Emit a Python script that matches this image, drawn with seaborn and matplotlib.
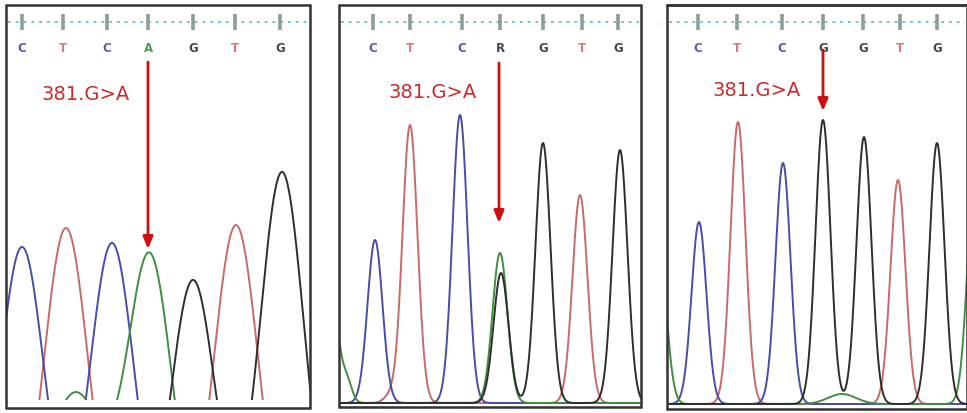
import numpy as np
import pandas as pd
import matplotlib
matplotlib.use("Agg")
import matplotlib.pyplot as plt
import seaborn as sns
from matplotlib.patches import Rectangle

sns.set_theme(style="white")
plt.rcParams["font.family"] = ["DejaVu Sans"]

# ---------------- data (pixel-space readings of the three traces) ----------------
mutation_label = "381.G>A"

# panel 1 : homozygous A
p1_calls = ["C", "T", "C", "A", "G", "T", "G"]
p1_call_x = [22, 63, 107, 148, 193, 235, 280]
p1_peak_x = [22, 66, 112, 150, 193, 236, 282, 75]
p1_peak_top = [247, 228, 243, 260, 280, 225, 172, 393]
p1_peak_ch = ["C", "T", "C", "A", "G", "T", "G", "A"]
p1_peak_sd = [22, 22, 22, 22, 22, 22, 22, 30]

# panel 2 : heterozygous R
p2_calls = ["C", "T", "C", "R", "G", "T", "G"]
p2_call_x = [373, 410, 462, 500, 543, 582, 618]
p2_peak_x = [325, 347, 375, 390, 410, 460, 500, 501, 543, 580, 620]
p2_peak_top = [200, 384, 240, 396, 125, 115, 253, 273, 143, 195, 150]
p2_peak_ch = ["A", "A", "C", "T", "T", "C", "A", "G", "G", "T", "G"]
p2_peak_sd = [9, 5, 7.5, 6, 7.5, 7.5, 7.5, 7.5, 7.5, 7.5, 7.5]

# panel 3 : wild type G
p3_calls = ["C", "T", "C", "G", "G", "T", "G"]
p3_call_x = [698, 737, 782, 823, 863, 900, 937]
p3_peak_x = [655, 670, 699, 738, 783, 823, 842, 864, 898, 937, 975]
p3_peak_top = [150, 397, 222, 122, 163, 120, 394, 137, 180, 143, 175]
p3_peak_ch = ["A", "A", "C", "T", "C", "G", "A", "G", "T", "G", "A"]
p3_peak_sd = [8, 5, 7.5, 7.5, 7.5, 7.5, 14, 7.5, 7.5, 7.5, 7.5]

# panel geometry (pixels) and annotation placement
panels = [
    dict(calls=p1_calls, call_x=p1_call_x, px=p1_peak_x, top=p1_peak_top, ch=p1_peak_ch, sd=p1_peak_sd,
         left=6, right=310, ftop=5, fbottom=408, clip=400, base=560,
         arrow_x=148, arrow_y0=62, arrow_y1=249, label_x=86, label_y=95, right_border=True),
    dict(calls=p2_calls, call_x=p2_call_x, px=p2_peak_x, top=p2_peak_top, ch=p2_peak_ch, sd=p2_peak_sd,
         left=339, right=641, ftop=5, fbottom=407, clip=405, base=403,
         arrow_x=499, arrow_y0=63, arrow_y1=223, label_x=433, label_y=93, right_border=True),
    dict(calls=p3_calls, call_x=p3_call_x, px=p3_peak_x, top=p3_peak_top, ch=p3_peak_ch, sd=p3_peak_sd,
         left=667, right=967, ftop=5, fbottom=409, clip=406, base=404,
         arrow_x=823, arrow_y0=50, arrow_y1=111, label_x=757, label_y=91, right_border=False),
]

trace_colors = {"A": "#3f8f3f", "C": "#4b4ba8", "G": "#2e2e2e", "T": "#c86a6a"}
call_colors = {"A": "#4aa04a", "C": "#5a5ab0", "G": "#454545", "T": "#d87a7a", "R": "#454545"}

W, H = 967, 413
fig = plt.figure(figsize=(W / 100, H / 100), dpi=100)

for p in panels:
    l, r, t, c = p["left"], p["right"], p["ftop"], p["clip"]
    ax = fig.add_axes([l / W, 1 - c / H, (r - l) / W, (c - t) / H])
    ax.set_xlim(l, r)
    ax.set_ylim(c, t)
    ax.set_axis_off()

    # build traces: each channel is the sum of its peaks
    xs = np.arange(l - 5, r + 5.01, 0.5)
    rows = []
    for chn in ["A", "C", "G", "T"]:
        sig = np.zeros_like(xs)
        for x0, tp, cc, sd in zip(p["px"], p["top"], p["ch"], p["sd"]):
            if cc == chn:
                sig += (p["base"] - tp) * np.exp(-((xs - x0) ** 2) / (2 * sd ** 2))
        for xv, sv in zip(xs, sig):
            rows.append((xv, p["base"] - sv, chn))
    df = pd.DataFrame(rows, columns=["pos", "signal", "base"])
    sns.lineplot(data=df, x="pos", y="signal", hue="base", palette=trace_colors,
                 hue_order=["T", "C", "A", "G"], estimator=None, sort=False,
                 linewidth=1.4, legend=False, ax=ax)
    ax.set_axis_off()

    # frame
    fr = p["fbottom"] - t
    ax.add_patch(Rectangle((l, t), r - l, fr, fill=False, edgecolor="#333333",
                           linewidth=1.8, clip_on=False, zorder=10))
    if not p["right_border"]:
        ax.plot([l, r + 3], [t, t], color="#333333", lw=1.8, clip_on=False, zorder=10)

    # dotted ruler + tick bars + base calls
    ax.plot([l + 2, r - 2], [22, 22], color="#70c8c8", lw=1.4, ls=(0, (1.5, 2.5)), clip_on=False)
    for cx, cl in zip(p["call_x"], p["calls"]):
        ax.plot([cx, cx], [14, 30], color="#8e9c9c", lw=2.6, solid_capstyle="butt", clip_on=False)
        ax.text(cx, 48, cl, color=call_colors[cl], fontsize=8.5, fontweight="bold",
                ha="center", va="center")

    # mutation label + arrow
    ax.text(p["label_x"], p["label_y"], mutation_label, color="#cc2a2a", fontsize=14,
            ha="center", va="center")
    ax.annotate("", xy=(p["arrow_x"], p["arrow_y1"]), xytext=(p["arrow_x"], p["arrow_y0"]),
                arrowprops=dict(arrowstyle="-|>,head_length=0.6,head_width=0.25",
                                color="#cc1111", lw=2.0, shrinkA=0, shrinkB=0))

fig.savefig("out.png", dpi=100)
